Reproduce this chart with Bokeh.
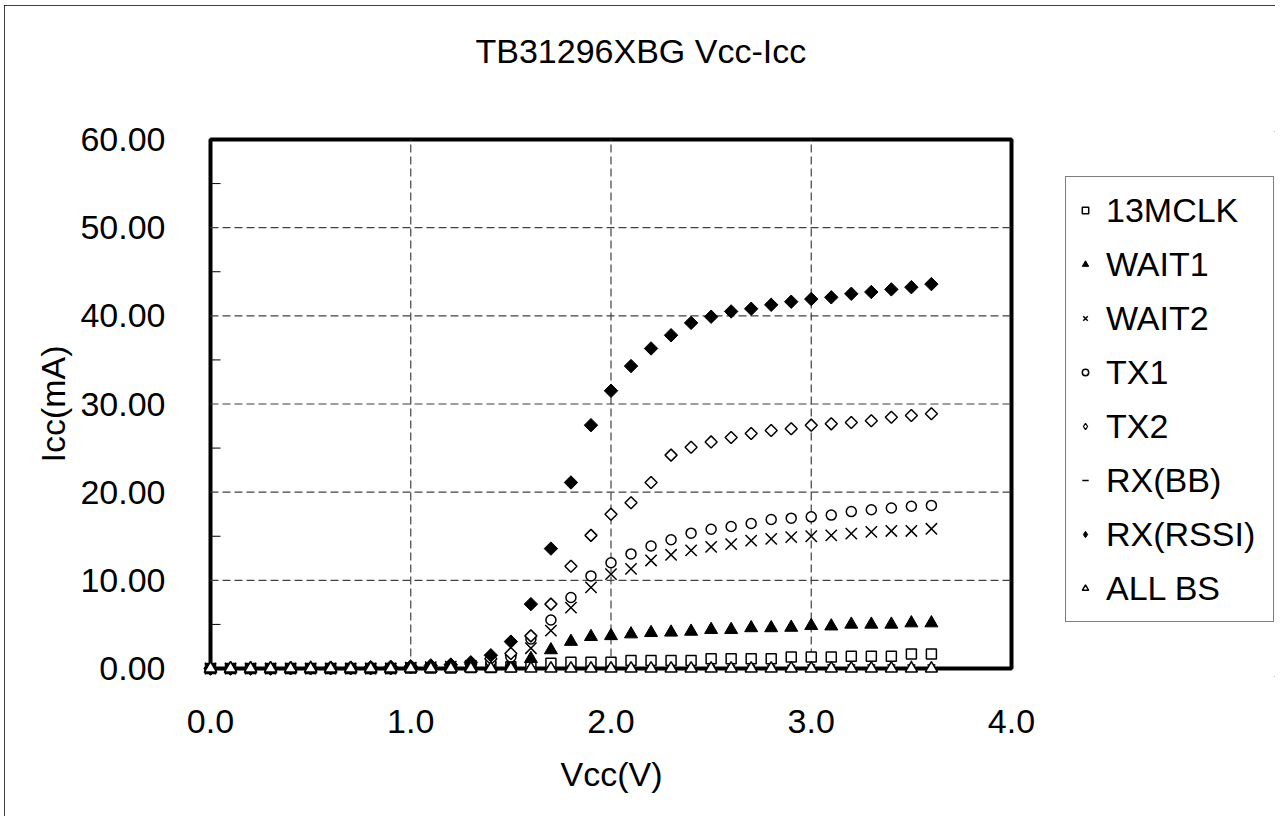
from bokeh.plotting import figure
from bokeh.models import (Range1d, FixedTicker, NumeralTickFormatter, Legend,
                          LegendItem, BoxAnnotation, Title)
from bokeh.embed import file_html
from bokeh.resources import INLINE

# ---------------- data ----------------
vcc = [0.0, 0.1, 0.2, 0.3, 0.4, 0.5, 0.6, 0.7, 0.8, 0.9,
       1.0, 1.1, 1.2, 1.3, 1.4, 1.5, 1.6, 1.7, 1.8, 1.9,
       2.0, 2.1, 2.2, 2.3, 2.4, 2.5, 2.6, 2.7, 2.8, 2.9,
       3.0, 3.1, 3.2, 3.3, 3.4, 3.5, 3.6]

mclk13 = [0.00, 0.00, 0.00, 0.00, 0.00, 0.00, 0.00, 0.00, 0.00, 0.00,
          0.05, 0.05, 0.05, 0.10, 0.10, 0.20, 0.30, 0.60, 0.70, 0.70,
          0.70, 0.90, 0.90, 0.90, 0.90, 1.10, 1.10, 1.10, 1.10, 1.30,
          1.30, 1.30, 1.40, 1.40, 1.40, 1.65, 1.65]

wait1 = [0.00, 0.00, 0.00, 0.00, 0.00, 0.00, 0.00, 0.00, 0.00, 0.00,
         0.05, 0.05, 0.10, 0.10, 0.20, 0.45, 1.10, 2.10, 3.05, 3.60,
         3.70, 3.90, 4.05, 4.10, 4.20, 4.40, 4.40, 4.60, 4.60, 4.65,
         4.85, 4.80, 5.00, 5.00, 5.00, 5.15, 5.15]

wait2 = [0.00, 0.00, 0.00, 0.00, 0.00, 0.00, 0.00, 0.00, 0.00, 0.00,
         0.10, 0.15, 0.20, 0.30, 0.50, 0.90, 2.30, 4.30, 6.90, 9.20,
         10.70, 11.30, 12.25, 12.90, 13.40, 13.80, 14.10, 14.50, 14.70, 14.90,
         15.00, 15.10, 15.30, 15.50, 15.60, 15.60, 15.85]

tx1 = [0.00, 0.00, 0.00, 0.00, 0.00, 0.00, 0.00, 0.00, 0.00, 0.00,
       0.10, 0.15, 0.25, 0.40, 0.80, 1.30, 3.35, 5.50, 8.05, 10.50,
       12.00, 13.00, 13.90, 14.60, 15.35, 15.80, 16.10, 16.45, 16.90, 17.05,
       17.20, 17.40, 17.80, 18.00, 18.20, 18.40, 18.50]

tx2 = [0.00, 0.00, 0.00, 0.00, 0.00, 0.00, 0.00, 0.00, 0.00, 0.00,
       0.15, 0.20, 0.30, 0.50, 1.10, 1.70, 3.70, 7.30, 11.60, 15.10,
       17.50, 18.80, 21.10, 24.20, 25.10, 25.70, 26.20, 26.65, 27.00, 27.20,
       27.60, 27.75, 27.90, 28.10, 28.50, 28.70, 28.90]

rx_bb = [0.00, 0.00, 0.00, 0.00, 0.00, 0.00, 0.00, 0.00, 0.00, 0.00,
         0.05, 0.05, 0.05, 0.10, 0.10, 0.15, 0.20, 0.20, 0.25, 0.25,
         0.25, 0.30, 0.30, 0.30, 0.30, 0.35, 0.35, 0.35, 0.35, 0.35,
         0.40, 0.40, 0.40, 0.40, 0.40, 0.40, 0.40]

rx_rssi = [0.00, 0.00, 0.00, 0.00, 0.05, 0.05, 0.10, 0.10, 0.15, 0.20,
           0.25, 0.35, 0.45, 0.70, 1.50, 3.05, 7.30, 13.60, 21.10, 27.60,
           31.50, 34.30, 36.30, 37.80, 39.20, 39.90, 40.50, 40.80, 41.25, 41.60,
           41.90, 42.10, 42.50, 42.70, 43.00, 43.25, 43.60]

all_bs = [0.00, 0.00, 0.00, 0.00, 0.00, 0.00, 0.00, 0.00, 0.00, 0.00,
          0.00, 0.00, 0.00, 0.00, 0.00, 0.00, 0.00, 0.00, 0.00, 0.00,
          0.00, 0.00, 0.00, 0.00, 0.00, 0.00, 0.00, 0.00, 0.00, 0.00,
          0.00, 0.00, 0.00, 0.00, 0.00, 0.00, 0.00]

x_ticks = [0.0, 1.0, 2.0, 3.0, 4.0]
y_ticks = [0, 10, 20, 30, 40, 50, 60]
x_minor = [0.5, 1.5, 2.5, 3.5]
y_minor = [5, 15, 25, 35, 45, 55]

title_text = "TB31296XBG Vcc-Icc"
x_label = "Vcc(V)"
y_label = "Icc(mA)"

FONT = "Liberation Sans"
FS = "34px"

# ---------------- figure ----------------
XMIN, XMAX, YMIN, YMAX = 0.0, 4.0, 0.0, 60.0
PX_X = 200.25     # pixels per volt
PX_Y = 8.817      # pixels per mA
W, H = 1271, 811
ML, MT, MB = 198, 126, 140
frame_w = W - ML
x_start = XMIN - 8 / PX_X
x_end = x_start + frame_w / PX_X

p = figure(width=W, height=H, output_backend="svg", toolbar_location=None,
           title=None,
           x_range=Range1d(x_start, x_end),
           y_range=Range1d(YMIN - 8 / PX_Y, YMAX + 8 / PX_Y),
           min_border_left=ML, min_border_right=0,
           min_border_top=MT, min_border_bottom=MB)
p.outline_line_color = None
p.background_fill_color = "white"
p.border_fill_color = "white"
p.xgrid.visible = False
p.ygrid.visible = False
p.styles = {"margin-left": "4px", "margin-top": "5px",
            "outline": "1px solid black", "outline-offset": "-1px"}


def make_title(text, offset, standoff):
    return Title(text=text, align="left", offset=offset, vertical_align="middle",
                 standoff=standoff, text_font=FONT, text_font_size=FS,
                 text_font_style="normal", text_color="black")


# spacer between frame and chart title, then the chart title itself
p.add_layout(make_title(" ", 0, 21), "above")
p.add_layout(make_title(title_text, 273, 0), "above")

# x axis label (left-aligned with an offset so it is centred under the plot box)
p.add_layout(make_title(x_label, 358, 36), "below")

for ax in (p.xaxis[0], p.yaxis[0]):
    ax.axis_line_color = None
    ax.major_tick_line_color = None
    ax.minor_tick_line_color = None
    ax.major_tick_in = 0
    ax.major_tick_out = 0
    ax.minor_tick_in = 0
    ax.minor_tick_out = 0
    ax.major_label_text_font = FONT
    ax.major_label_text_font_size = FS
    ax.major_label_text_color = "black"
    ax.axis_label_text_font = FONT
    ax.axis_label_text_font_size = FS
    ax.axis_label_text_font_style = "normal"
    ax.axis_label_text_color = "black"

p.xaxis.ticker = FixedTicker(ticks=x_ticks)
p.xaxis.formatter = NumeralTickFormatter(format="0.0")
p.xaxis.major_label_standoff = 33

p.yaxis.ticker = FixedTicker(ticks=y_ticks)
p.yaxis.formatter = NumeralTickFormatter(format="0.00")
p.yaxis.major_label_standoff = 37
p.yaxis.axis_label = y_label
p.yaxis.axis_label_standoff = 5

# gridlines (dashed), only inside the plot box
gx = x_ticks[1:-1]
gy = y_ticks[1:-1]
p.segment(x0=gx, y0=[YMIN] * len(gx), x1=gx, y1=[YMAX] * len(gx),
          line_color="#404040", line_width=1.2, line_dash="8 4")
p.segment(x0=[XMIN] * len(gy), y0=gy, x1=[XMAX] * len(gy), y1=gy,
          line_color="#404040", line_width=1.2, line_dash="8 4")

# inward minor ticks
tick_dx = 10 / PX_X
tick_dy = 8 / PX_Y
p.segment(x0=[XMIN] * len(y_minor), y0=y_minor, x1=[XMIN + tick_dx] * len(y_minor),
          y1=y_minor, line_color="black", line_width=1)
p.segment(x0=x_minor, y0=[YMIN] * len(x_minor), x1=x_minor,
          y1=[YMIN + tick_dy] * len(x_minor), line_color="black", line_width=1)

# thick plot box
box = BoxAnnotation(left=XMIN, right=XMAX, bottom=YMIN, top=YMAX,
                    fill_color=None, fill_alpha=0, line_color="black",
                    line_alpha=1.0, line_width=4, level="underlay")
p.add_layout(box)

# ---------------- series ----------------
DIAMOND = 0.7853981633974483
# legend glyphs for the diamond series (hidden beneath the rotated squares)
l5 = p.scatter(vcc, tx2, marker="diamond", size=10, fill_color="white",
               line_color="black", line_width=1.2)
l7 = p.scatter(vcc, rx_rssi, marker="diamond", size=10, fill_color="black",
               line_color="black", line_width=1)

r1 = p.scatter(vcc, mclk13, marker="square", size=10, fill_color="white",
               line_color="black", line_width=1.5)
r2 = p.scatter(vcc, wait1, marker="triangle", size=13, fill_color="black",
               line_color="black", line_width=1)
r3 = p.scatter(vcc, wait2, marker="x", size=16, line_color="black", line_width=1.5)
r4 = p.scatter(vcc, tx1, marker="circle", size=10, fill_color="white",
               line_color="black", line_width=1.5)
r5 = p.scatter(vcc, tx2, marker="square", angle=DIAMOND, size=8.5,
               fill_color="white", line_color="black", line_width=1.5)
r6 = p.scatter(vcc, rx_bb, marker="dash", size=8, line_color="black", line_width=1.5)
r7 = p.scatter(vcc, rx_rssi, marker="square", angle=DIAMOND, size=9.5,
               fill_color="black", line_color="black", line_width=1)
r8 = p.scatter(vcc, all_bs, marker="triangle", size=12, fill_color="white",
               line_color="black", line_width=1.5)

names = ["13MCLK", "WAIT1", "WAIT2", "TX1", "TX2", "RX(BB)", "RX(RSSI)", "ALL BS"]
rends = [r1, r2, r3, r4, l5, r6, l7, r8]
legend = Legend(items=[LegendItem(label=n, renderers=[r]) for n, r in zip(names, rends)],
                location=(1065 - 202, 676 - 622), orientation="vertical",
                label_text_font=FONT, label_text_font_size=FS,
                label_text_color="black",
                glyph_width=16, glyph_height=44, label_height=44,
                label_width=156, label_standoff=13, spacing=10,
                padding=11, margin=0,
                border_line_color="black", border_line_width=1,
                background_fill_color="white", background_fill_alpha=1.0)
p.add_layout(legend)

open("out.html", "w").write(file_html(p, INLINE))
